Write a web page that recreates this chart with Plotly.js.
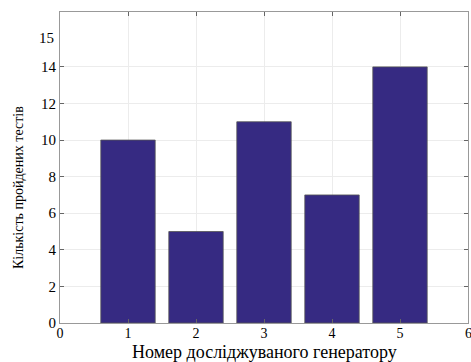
<!DOCTYPE html>
<html><head><meta charset="utf-8">
<script src="https://cdn.plot.ly/plotly-3.0.1.min.js"></script>
<style>body{margin:0;background:#fff}#c{width:471px;height:362px}</style>
</head><body><div id="c"></div>
<script>
const generators = [1, 2, 3, 4, 5];
const testsPassed = [10, 5, 11, 7, 14];
const xTicks = [0, 1, 2, 3, 4, 5];
const yTicks = [0, 2, 4, 6, 8, 10, 12, 14];

const fam = 'Times New Roman, DejaVu Serif, serif';
const f = (s) => ({family: fam, size: s, color: '#000'});
Plotly.newPlot('c', [{
  type: 'bar', x: generators, y: testsPassed, width: 0.8,
  marker: {color: '#362a82', line: {color: '#555', width: 0.8}}
}], {
  width: 471, height: 362,
  margin: {l: 60, r: 3, t: 12, b: 39},
  paper_bgcolor: '#fff', plot_bgcolor: '#fff',
  showlegend: false,
  font: f(15),
  xaxis: {range: [0, 6], tickvals: xTicks, ticks: 'inside', ticklen: 4, tickcolor: '#666',
    showgrid: true, gridcolor: '#ececec', zeroline: false, showline: true, linecolor: '#999', mirror: 'ticks',
    tickfont: f(14), ticklabelstandoff: -3},
  yaxis: {range: [0, 17], tickvals: yTicks, ticks: 'inside', ticklen: 4, tickcolor: '#666',
    showgrid: true, gridcolor: '#ececec', zeroline: false, showline: true, linecolor: '#999', mirror: 'ticks',
    tickfont: f(15)},
  annotations: [
    {xref: 'paper', yref: 'paper', x: 0, y: 0.917, xanchor: 'right', yanchor: 'middle', xshift: -4,
     text: '15', showarrow: false, font: f(15)},
    {xref: 'x', yref: 'paper', x: 6, y: 0, xanchor: 'center', yanchor: 'top', yshift: -1,
     text: '6', showarrow: false, font: f(14)},
    {xref: 'paper', yref: 'paper', x: 0.5, y: 0, xanchor: 'center', yanchor: 'middle', yshift: -29, borderpad: 0,
     text: 'Номер досліджуваного генератору', showarrow: false, font: f(18)},
    {xref: 'paper', yref: 'paper', x: 0, y: 0.434, xanchor: 'center', yanchor: 'middle', xshift: -42,
     textangle: -90, text: 'Кількість пройдених тестів', showarrow: false, font: f(14)}
  ],
  bargap: 0.2
}, {displayModeBar: false, staticPlot: true});
</script></body></html>
